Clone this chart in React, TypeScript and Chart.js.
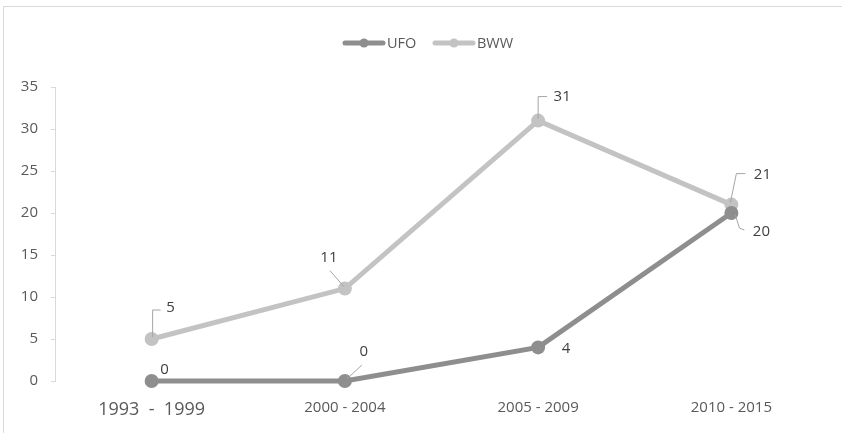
import React, { useEffect, useRef } from "react";
import { Chart, registerables } from "chart.js";

Chart.register(...registerables);

const categories = ["1993  -  1999", "2000 - 2004", "2005 - 2009", "2010 - 2015"];
const seriesNames = ["UFO", "BWW"];
const ufoValues = [0, 0, 4, 20];
const bwwValues = [5, 11, 31, 21];
const yTicks = { min: 0, max: 35, step: 5 };

const seriesColors = ["#8e8e8e", "#c3c3c3"];
const FONT = "'Open Sans', sans-serif";
const TEXT = "#595959";

// label placement: [dx, dy] of label centre relative to point, leader polyline relative to point
type LabelCfg = { dx: number; dy: number; leader?: number[][] };
const labelLayout: LabelCfg[][] = [
  [
    { dx: 13, dy: -11 },
    { dx: 19, dy: -29, leader: [[2, -2], [17, -16]] },
    { dx: 28, dy: 1 },
    { dx: 30, dy: 19, leader: [[4, 2], [8, 15], [13, 17]] },
  ],
  [
    { dx: 19, dy: -31, leader: [[1, -2], [1, -29], [9, -29]] },
    { dx: -16, dy: -31, leader: [[-1, -2], [-15, -18]] },
    { dx: 24, dy: -24, leader: [[0, -2], [0, -24], [9, -24]] },
    { dx: 31, dy: -30, leader: [[-1, -2], [5, -31], [14, -31]] },
  ],
];

const labelPlugin = {
  id: "leaderLabels",
  afterDatasetsDraw(chart: any) {
    const ctx = chart.ctx;
    ctx.save();
    chart.data.datasets.forEach((ds: any, di: number) => {
      const meta = chart.getDatasetMeta(di);
      meta.data.forEach((pt: any, i: number) => {
        const cfg = labelLayout[di][i];
        const x = pt.x;
        const y = pt.y;
        if (cfg.leader) {
          ctx.beginPath();
          ctx.strokeStyle = "#a5a5a5";
          ctx.lineWidth = 1;
          cfg.leader.forEach((p, k) => {
            if (k === 0) ctx.moveTo(x + p[0], y + p[1]);
            else ctx.lineTo(x + p[0], y + p[1]);
          });
          ctx.stroke();
        }
        ctx.fillStyle = "#404040";
        ctx.font = `15px ${FONT}`;
        ctx.textAlign = "center";
        ctx.textBaseline = "middle";
        ctx.fillText(String(ds.data[i]), x + cfg.dx, y + cfg.dy);
      });
    });
    ctx.restore();
  },
};

const legendPlugin = {
  id: "customLegend",
  afterDraw(chart: any) {
    const ctx = chart.ctx;
    ctx.save();
    const y = 43;
    const items = [
      { x: 343, name: seriesNames[0], color: seriesColors[0] },
      { x: 433, name: seriesNames[1], color: seriesColors[1] },
    ];
    items.forEach((it) => {
      ctx.strokeStyle = it.color;
      ctx.lineWidth = 5;
      ctx.lineCap = "round";
      ctx.beginPath();
      ctx.moveTo(it.x + 2, y);
      ctx.lineTo(it.x + 40, y);
      ctx.stroke();
      ctx.fillStyle = it.color;
      ctx.beginPath();
      ctx.arc(it.x + 21, y, 4.5, 0, Math.PI * 2);
      ctx.fill();
      ctx.fillStyle = TEXT;
      ctx.font = `14.5px ${FONT}`;
      ctx.textAlign = "left";
      ctx.textBaseline = "middle";
      ctx.fillText(it.name, it.x + 44, y + 1);
    });
    ctx.restore();
  },
};

export default function App() {
  const ref = useRef<HTMLCanvasElement>(null);
  useEffect(() => {
    if (!ref.current) return;
    const chart = new Chart(ref.current, {
      type: "line",
      data: {
        labels: categories,
        datasets: [
          {
            label: seriesNames[0],
            data: ufoValues,
            borderColor: seriesColors[0],
            backgroundColor: seriesColors[0],
            borderWidth: 5,
            pointRadius: 7,
            pointHoverRadius: 7,
            pointBorderWidth: 0,
            tension: 0,
            clip: false,
          },
          {
            label: seriesNames[1],
            data: bwwValues,
            borderColor: seriesColors[1],
            backgroundColor: seriesColors[1],
            borderWidth: 5,
            pointRadius: 7,
            pointHoverRadius: 7,
            pointBorderWidth: 0,
            tension: 0,
            clip: false,
          },
        ],
      },
      options: {
        animation: false,
        responsive: false,
        devicePixelRatio: 1,
        layout: { padding: { left: 0, right: 14, top: 87, bottom: 0 } },
        plugins: { legend: { display: false }, tooltip: { enabled: false } },
        scales: {
          x: {
            offset: true,
            grid: { display: false, drawTicks: false },
            border: { display: false },
            ticks: {
              padding: 18,
              color: TEXT,
              font: (c: any) => (c.index === 0 ? { size: 18, family: FONT } : { size: 15, family: FONT }),
              maxRotation: 0,
              autoSkip: false,
            },
            afterFit: (s: any) => {
              s.height = 52;
            },
          },
          y: {
            min: yTicks.min,
            max: yTicks.max,
            ticks: {
              stepSize: yTicks.step,
              padding: 13,
              color: TEXT,
              font: { size: 15, family: FONT },
            },
            grid: { drawOnChartArea: false, drawTicks: true, tickLength: 4, color: "#d9d9d9" },
            border: { display: true, color: "#d9d9d9", width: 1 },
            afterFit: (s: any) => {
              s.width = 55;
            },
          },
        },
      },
      plugins: [labelPlugin, legendPlugin],
    });
    return () => chart.destroy();
  }, []);
  return (
    <div style={{ position: "fixed", left: 0, top: 0, width: 842, height: 433, background: "#fff" }}>
      <div
        style={{
          position: "absolute",
          left: 3,
          top: 6,
          width: 860,
          height: 450,
          borderLeft: "1.5px solid #d9d9d9",
          borderTop: "1.5px solid #d9d9d9",
        }}
      />
      <canvas ref={ref} width={842} height={433} style={{ position: "absolute", left: 0, top: 0 }} />
    </div>
  );
}
